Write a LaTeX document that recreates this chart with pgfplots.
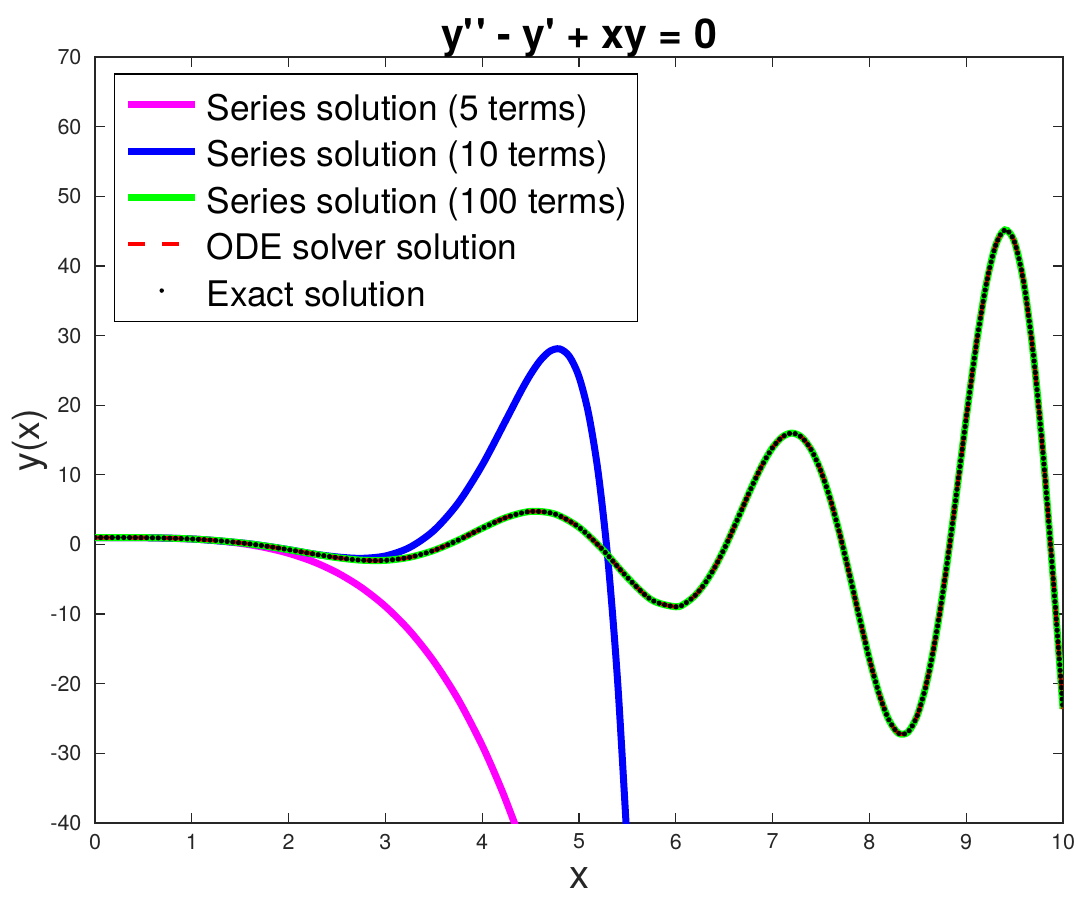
\documentclass[border=0pt]{standalone}
\usepackage{fontspec}
\setmainfont{TeX Gyre Heros}
\usepackage{pgfplots}
\pgfplotsset{compat=1.18}

\definecolor{axgray}{gray}{0.15}
\definecolor{mpink}{rgb}{1,0,1}
\definecolor{mgreen}{rgb}{0,1,0}
\definecolor{mblue}{rgb}{0,0,1}
\definecolor{mred}{rgb}{1,0,0}

% exact solution (also the 100-term series and the ODE solver)
\newcommand{\exactdata}{(0,1) (0.25,0.9972) (0.5,0.9764) (0.75,0.9155) (1,0.7894) (1.25,0.5725) (1.5,0.2444) (1.75,-0.2013) (2,-0.7475) (2.25,-1.3424) (2.5,-1.893) (2.75,-2.255) (3,-2.28) (3.25,-1.84) (3.5,-0.858) (3.75,0.608) (4,2.327) (4.25,3.887) (4.5,4.745) (4.75,4.372) (5,2.464) (5.25,-0.827) (5.5,-4.743) (5.75,-7.965) (6,-8.949) (6.1,-8.425) (6.2,-7.309) (6.3,-5.603) (6.4,-3.348) (6.5,-0.633) (6.6,2.410) (6.7,5.606) (6.8,8.745) (6.9,11.594) (7,13.905) (7.1,15.443) (7.2,15.997) (7.3,15.406) (7.4,13.579) (7.5,10.512) (7.6,6.300) (7.7,1.143) (7.8,-4.645) (7.9,-10.663) (8,-16.433) (8.1,-21.437) (8.2,-25.154) (8.3,-27.108) (8.4,-26.919) (8.5,-24.349) (8.6,-19.352) (8.7,-12.093) (8.8,-2.973) (8.9,7.376) (9,18.114) (9.1,28.306) (9.2,36.865) (9.3,42.787) (9.4,45.179) (9.5,43.393) (9.6,37.122) (9.7,26.474) (9.8,12.033) (9.9,-5.155) (10,-23.62)}

\begin{document}
\begin{tikzpicture}
\begin{axis}[
  scale only axis, width=387.2pt, height=306.4pt,
  xmin=0, xmax=10, ymin=-40, ymax=70,
  xtick={0,1,...,10}, xticklabels={0,1,2,3,4,5,6,7,8,9,10},
  ytick={-40,-30,...,70}, yticklabels={-40,-30,-20,-10,0,10,20,30,40,50,60,70},
  tick align=inside, major tick length=4pt,
  axis line style={axgray, line width=0.5pt},
  every tick/.style={axgray, line width=0.5pt},
  tick label style={font=\fontsize{8.6pt}{10pt}\selectfont, text=axgray},
  yticklabel style={xshift=-1.9pt},
  xticklabel style={yshift=-0.8pt},
  every axis title shift=0pt,
  title={y\textquotesingle\kern0.06em\textquotesingle{} - y\textquotesingle{} + xy = 0},
  title style={at={(axis description cs:0.5,1)}, anchor=base, yshift=3.5pt, font=\bfseries\fontsize{16.4pt}{19pt}\selectfont},
  xlabel={x}, ylabel={y(x)},
  xlabel style={at={(axis description cs:0.5,-0.072)}, anchor=center, font=\fontsize{16pt}{19pt}\selectfont, text=axgray},
  ylabel style={at={(axis description cs:-0.067,0.5)}, anchor=center, font=\fontsize{15pt}{18pt}\selectfont, text=axgray},
  legend style={at={(axis description cs:0.0196,0.979)}, anchor=north west,
    draw=black, line width=0.6pt, fill=white,
    font=\fontsize{14.1pt}{17pt}\selectfont,
    inner xsep=4pt, inner ysep=5pt, row sep=4pt, column sep=3.2pt,
    nodes={inner sep=0pt, text height=13.6pt, text depth=1pt}},
  legend cell align=left,
  legend image code/.code={\draw[#1] (0pt,0pt) -- (26.8pt,0pt);},
]
\addplot[mpink, line width=2.8pt, smooth] coordinates {
(0,1) (0.5,0.9763) (1,0.7833) (1.25,0.5474) (1.5,0.1633) (1.75,-0.421) (2,-1.267) (2.25,-2.447) (2.5,-4.046) (2.75,-6.16) (3,-8.9) (3.25,-12.39) (3.5,-16.78) (3.75,-22.21) (4,-28.87) (4.2,-35.2) (4.35,-40.62)};
\addlegendentry{Series solution (5 terms)}

\addplot[mblue, line width=2.8pt, smooth] coordinates {
(0,1) (0.5,0.9764) (1,0.7894) (1.5,0.2449) (1.75,-0.199) (2,-0.7378) (2.25,-1.3453) (2.5,-1.7899) (2.75,-1.9915) (3,-1.648) (3.25,-0.4331) (3.5,1.998) (3.75,5.921) (4,11.389) (4.25,17.981) (4.4,22.00) (4.5,24.427) (4.6,26.433) (4.7,27.758) (4.8,28.086) (4.9,27.019) (5,24.082) (5.1,18.690) (5.2,10.149) (5.3,-2.378) (5.4,-19.871) (5.5,-43.490)};
\addlegendentry{Series solution (10 terms)}

\addplot[mgreen, line width=2.8pt, smooth] coordinates {\exactdata};
\addlegendentry{Series solution (100 terms)}

\addplot[mred, line width=1.6pt, dash pattern=on 6.8pt off 6.8pt, smooth] coordinates {\exactdata};
\addlegendentry{ODE solver solution}

\addplot[black, line width=2.1pt, line cap=round, dash pattern=on 0pt off 2.3pt, smooth,
  legend image code/.code={\path[fill=black, draw=none] (13.4pt,0pt) circle[radius=0.9pt];}] coordinates {\exactdata};
\addlegendentry{Exact solution}
\end{axis}
\pgfresetboundingbox
\useasboundingbox ([shift={(-38pt,-29.2pt)}]current axis.south west) rectangle ([shift={(6pt,22.8pt)}]current axis.north east);
\end{tikzpicture}
\end{document}
